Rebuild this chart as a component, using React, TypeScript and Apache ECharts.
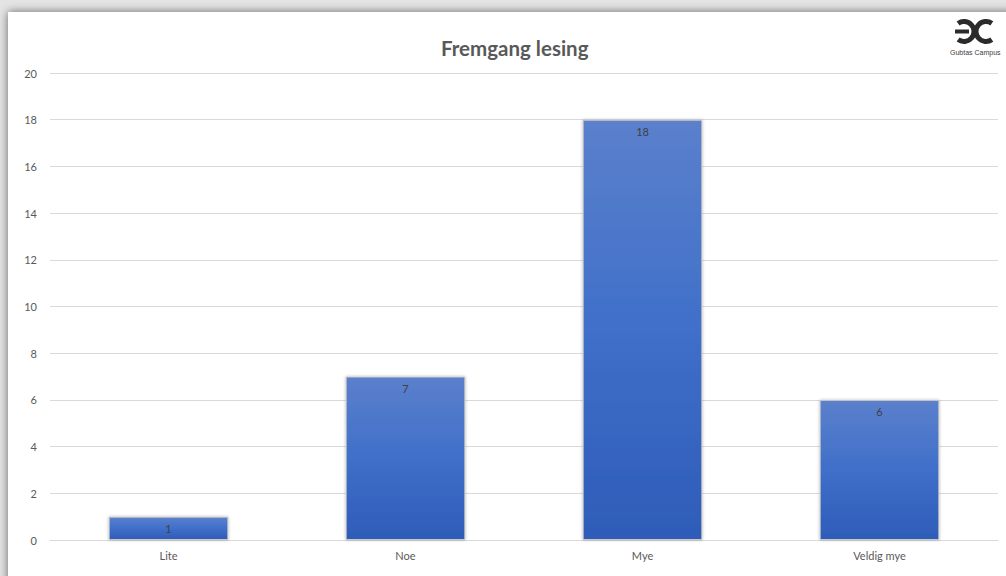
import React, { useEffect, useRef } from "react";
import * as echarts from "echarts";

const categories = ["Lite", "Noe", "Mye", "Veldig mye"];
const values = [1, 7, 18, 6];
const titleText = "Fremgang lesing";
const logoText = "Gubtas Campus";

export default function App() {
  const ref = useRef<HTMLDivElement>(null);
  useEffect(() => {
    if (!ref.current) return;
    const chart = echarts.init(ref.current, null, { renderer: "svg" });
    chart.setOption({
      animation: false,
      backgroundColor: "#e4e4e4",
      title: [
        {
          text: titleText,
          left: 436,
          top: 32,
          textStyle: { fontFamily: "Lato", fontSize: 20.5, fontWeight: "bold", color: "#595959" },
        },
        {
          text: logoText,
          left: 950,
          top: 49,
          padding: 0,
          textStyle: { fontFamily: "Liberation Sans", fontSize: 7, fontWeight: "normal", color: "#404040" },
        },
      ],
      graphic: [
        {
          type: "rect",
          z: -10,
          shape: { x: 8, y: 12, width: 1020, height: 600 },
          style: { fill: "#ffffff", shadowBlur: 10, shadowColor: "rgba(0,0,0,0.55)" },
          silent: true,
        },
        {
          type: "arc",
          shape: { cx: 964, cy: 31.5, r: 10, startAngle: -2.2, endAngle: 2.2, clockwise: true },
          style: { stroke: "#2b2b2b", lineWidth: 5, fill: null },
          silent: true,
        },
        {
          type: "line",
          shape: { x1: 955, y1: 31.5, x2: 969, y2: 31.5 },
          style: { stroke: "#2b2b2b", lineWidth: 4 },
          silent: true,
        },
        {
          type: "arc",
          shape: { cx: 986, cy: 31.5, r: 10, startAngle: 0.95, endAngle: 5.33, clockwise: true },
          style: { stroke: "#2b2b2b", lineWidth: 5, fill: null },
          silent: true,
        },
      ],
      grid: { left: 50, right: 8, top: 73, bottom: 36, containLabel: false },
      xAxis: {
        type: "category",
        data: categories,
        axisLine: { lineStyle: { color: "#d9d9d9" } },
        axisTick: { show: false },
        axisLabel: { color: "#595959", fontSize: 11, fontFamily: "Lato", margin: 10 },
      },
      yAxis: {
        type: "value",
        min: 0,
        max: 20,
        interval: 2,
        axisLine: { show: false },
        axisTick: { show: false },
        splitLine: { lineStyle: { color: "#d9d9d9" } },
        axisLabel: { color: "#595959", fontSize: 11, fontFamily: "Lato", margin: 13 },
      },
      series: [
        {
          type: "bar",
          data: values,
          barWidth: "50.5%",
          itemStyle: {
            color: new echarts.graphic.LinearGradient(0, 0, 0, 1, [
              { offset: 0, color: "#5b80cc" },
              { offset: 0.5, color: "#3f6fc9" },
              { offset: 1, color: "#2e5cb8" },
            ]),
            borderColor: "#c9c9c9",
            borderWidth: 1,
            shadowBlur: 3,
            shadowColor: "rgba(0,0,0,0.3)",
          },
          label: {
            show: true,
            position: "insideTop",
            distance: 6,
            color: "#404040",
            fontSize: 11,
            fontFamily: "Lato",
          },
        },
      ],
    });
    return () => chart.dispose();
  }, []);
  return <div ref={ref} style={{ position: "fixed", left: 0, top: 0, width: 1006, height: 576 }} />;
}
